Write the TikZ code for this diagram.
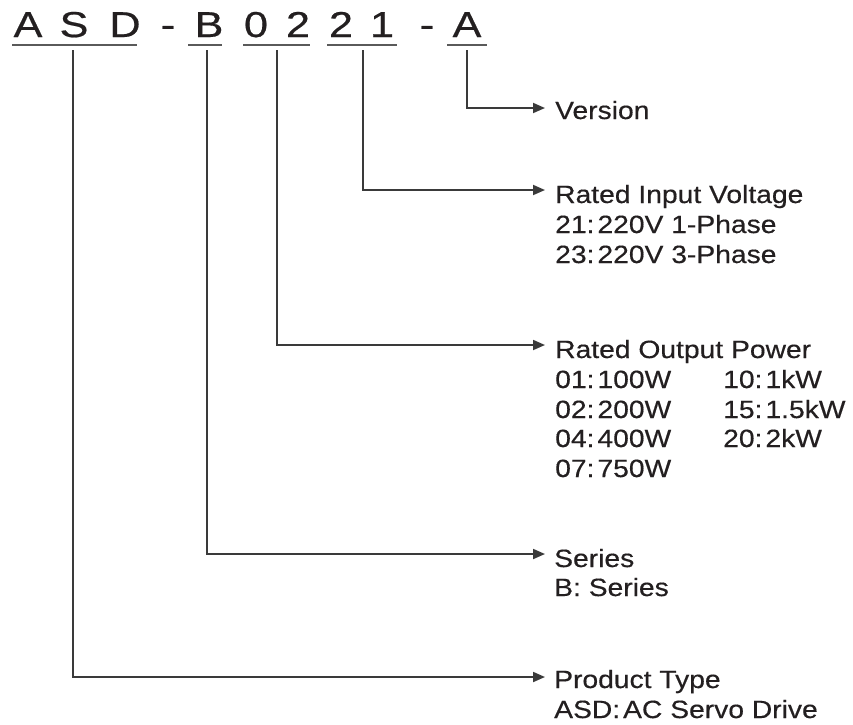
\documentclass[tikz,border=0pt]{standalone}
\usepackage{fontspec}
\setmainfont{Liberation Sans}[FakeStretch=1.13,FakeBold=0.4]
\newfontfamily\titlefont{Liberation Sans}[FakeStretch=1.2,FakeBold=0.5]
\usetikzlibrary{arrows.meta}
\definecolor{ink}{HTML}{231F20}
\definecolor{linec}{HTML}{3A3A3A}
\definecolor{ulc}{HTML}{5A5A5A}
\newcommand{\csp}{\hspace{3pt}}
\begin{document}
\begin{tikzpicture}[x=1pt,y=-1pt,
  lab/.style={anchor=base west, inner sep=0pt, font=\fontsize{25}{29.5}\selectfont, text=ink},
  ttl/.style={anchor=base, inner sep=0pt, font=\titlefont\fontsize{36}{40}\selectfont, text=ink},
  conn/.style={draw=linec, line width=1.8pt, -{Triangle[length=12pt,width=10pt]}},
  uline/.style={draw=ulc, line width=1.8pt}]
\useasboundingbox[fill=white] (0,0) rectangle (853,724);

% title characters
\node[ttl] (c1) at (28,37) {A};
\node[ttl] (c2) at (74,37) {S};
\node[ttl] (c3) at (125,37) {D};
\node[ttl] (c4) at (168,37) {-};
\node[ttl] (c5) at (209,37) {B};
\node[ttl] (c6) at (256,37) {0};
\node[ttl] (c7) at (298,37) {2};
\node[ttl] (c8) at (341,37) {2};
\node[ttl] (c9) at (382,37) {1};
\node[ttl] (c10) at (427,37) {-};
\node[ttl] (c11) at (467,37) {A};

% underlines
\coordinate (u1a) at (12,45);  \coordinate (u1b) at (137,45);
\coordinate (u2a) at (188,45); \coordinate (u2b) at (222,45);
\coordinate (u3a) at (243,45); \coordinate (u3b) at (310,45);
\coordinate (u4a) at (327,45); \coordinate (u4b) at (397,45);
\coordinate (u5a) at (447,45); \coordinate (u5b) at (487,45);
\draw[uline] (u1a) -- (u1b);
\draw[uline] (u2a) -- (u2b);
\draw[uline] (u3a) -- (u3b);
\draw[uline] (u4a) -- (u4b);
\draw[uline] (u5a) -- (u5b);

% connector start points
\coordinate (tASD) at (73,50);
\coordinate (tB) at (207,50);
\coordinate (tP) at (277,50);
\coordinate (tV) at (363,50);
\coordinate (tA) at (467,50);

% arrow tips
\coordinate (eA) at (545,108);
\coordinate (eV) at (545,190);
\coordinate (eP) at (545,345);
\coordinate (eB) at (545,554);
\coordinate (eASD) at (545,677);

\draw[conn] (tA) |- (eA);
\draw[conn] (tV) |- (eV);
\draw[conn] (tP) |- (eP);
\draw[conn] (tB) |- (eB);
\draw[conn] (tASD) |- (eASD);

% labels
\node[lab] (ver) at (555,119) {Version};

\node[lab] (riv) at (555,203) {Rated Input Voltage};
\node[lab] (riv1) at (555,233) {21:\csp220V 1-Phase};
\node[lab] (riv2) at (555,263) {23:\csp220V 3-Phase};

\node[lab] (rop) at (555,358) {Rated Output Power};
\node[lab] (rop1) at (555,388) {01:\csp100W};
\node[lab] (rop2) at (555,418) {02:\csp200W};
\node[lab] (rop3) at (555,447) {04:\csp400W};
\node[lab] (rop4) at (555,477) {07:\csp750W};
\node[lab] (rop5) at (723,388) {10:\csp1kW};
\node[lab] (rop6) at (723,418) {15:\csp1.5kW};
\node[lab] (rop7) at (723,447) {20:\csp2kW};

\node[lab] (ser) at (554,567) {Series};
\node[lab] (ser1) at (554,596) {B: Series};

\node[lab] (pt) at (554,688) {Product Type};
\node[lab] (pt1) at (554,718) {ASD:\csp AC Servo Drive};
\end{tikzpicture}
\end{document}
